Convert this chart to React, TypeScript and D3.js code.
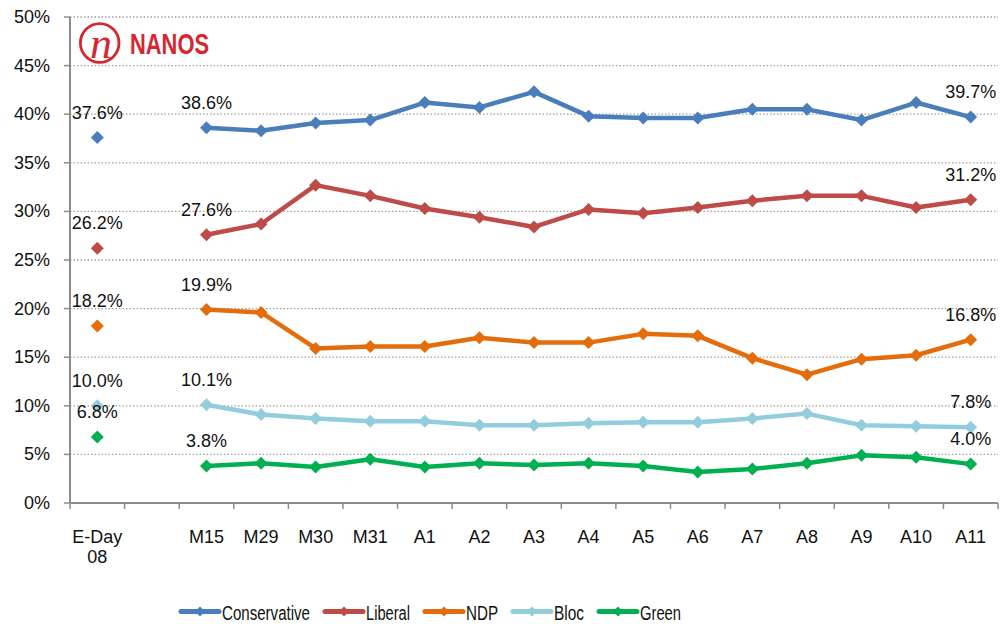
import React from "react";
import * as d3 from "d3";

const categories = ["E-Day\n08", "", "M15", "M29", "M30", "M31", "A1", "A2", "A3", "A4", "A5", "A6", "A7", "A8", "A9", "A10", "A11"];

const conservative = [37.6, null, 38.6, 38.3, 39.1, 39.4, 41.2, 40.7, 42.3, 39.8, 39.6, 39.6, 40.5, 40.5, 39.4, 41.2, 39.7];
const liberal = [26.2, null, 27.6, 28.7, 32.7, 31.6, 30.3, 29.4, 28.4, 30.2, 29.8, 30.4, 31.1, 31.6, 31.6, 30.4, 31.2];
const ndp = [18.2, null, 19.9, 19.6, 15.9, 16.1, 16.1, 17.0, 16.5, 16.5, 17.4, 17.2, 14.9, 13.2, 14.8, 15.2, 16.8];
const bloc = [10.0, null, 10.1, 9.1, 8.7, 8.4, 8.4, 8.0, 8.0, 8.2, 8.3, 8.3, 8.7, 9.2, 8.0, 7.9, 7.8];
const green = [6.8, null, 3.8, 4.1, 3.7, 4.5, 3.7, 4.1, 3.9, 4.1, 3.8, 3.2, 3.5, 4.1, 4.9, 4.7, 4.0];

const seriesNames = ["Conservative", "Liberal", "NDP", "Bloc", "Green"];
const seriesColors = ["#4a7ebb", "#be4b48", "#e46c0a", "#93cddd", "#00b050"];
const seriesValues = [conservative, liberal, ndp, bloc, green];
const labelIndices = [0, 2, 16];

const yTicks = [0, 5, 10, 15, 20, 25, 30, 35, 40, 45, 50];

const FONT = "'Liberation Sans', Arial, sans-serif";

export default function App() {
  const W = 1002, H = 624;
  const left = 70, right = 998, top = 17, bottom = 503;
  const x = d3.scaleBand<string>().domain(categories).range([left, right]).padding(0);
  const y = d3.scaleLinear().domain([0, 50]).range([bottom, top]);
  const cx = (i: number) => (x(categories[i]) as number) + x.bandwidth() / 2;
  const fmt = d3.format(".1f");

  const line = d3
    .line<number | null>()
    .defined((d) => d != null)
    .x((_, i) => cx(i))
    .y((d) => y(d as number));

  const diamond = (px: number, py: number, r: number) =>
    `M${px},${py - r}L${px + r},${py}L${px},${py + r}L${px - r},${py}Z`;

  const legendLine = 38, legendGap = 3, itemGap = 15;
  const legendTextW = [88, 44, 32, 30, 41];
  let lx = 181;
  const legendX: number[] = [];
  legendTextW.forEach((w) => {
    legendX.push(lx);
    lx += legendLine + legendGap + w + itemGap;
  });

  const boundaries = d3.range(categories.length + 1).map((i) => left + i * x.step());

  return (
    <svg width={W} height={H} style={{ position: "absolute", left: 0, top: 0, background: "#fff" }} fontFamily={FONT}>
      {/* grid */}
      {yTicks.filter((t) => t > 0).map((t) => (
        <line key={"g" + t} x1={left} x2={right} y1={y(t)} y2={y(t)} stroke="#a0a0a0" strokeWidth={1.3} strokeDasharray="1.5,2" />
      ))}
      {/* y axis */}
      <line x1={left} x2={left} y1={top} y2={bottom} stroke="#8c8c8c" strokeWidth={2} />
      {yTicks.map((t) => (
        <g key={"yt" + t}>
          <line x1={left - 6} x2={left} y1={y(t)} y2={y(t)} stroke="#8c8c8c" strokeWidth={1.5} />
          <text x={50} y={y(t) + 6} textAnchor="end" fontSize={18} fill="#111">{t + "%"}</text>
        </g>
      ))}
      {/* x axis */}
      <line x1={left} x2={right} y1={bottom} y2={bottom} stroke="#8c8c8c" strokeWidth={2} />
      {boundaries.map((b, i) => (
        <line key={"xt" + i} x1={b} x2={b} y1={bottom} y2={bottom + 6} stroke="#8c8c8c" strokeWidth={1.5} />
      ))}
      {categories.map((c, i) =>
        c.split("\n").map((part, j) => (
          <text key={"xl" + i + "-" + j} x={cx(i)} y={543 + j * 20} textAnchor="middle" fontSize={18} fill="#111">{part}</text>
        ))
      )}
      {/* series */}
      {seriesValues.map((vals, si) => (
        <g key={"s" + si}>
          <path d={line(vals.map((v, i) => (i === 0 ? null : v))) || ""} fill="none" stroke={seriesColors[si]} strokeWidth={4.5} strokeLinejoin="round" />
          {vals.map((v, i) =>
            v == null ? null : <path key={"m" + i} d={diamond(cx(i), y(v), 6.5)} fill={seriesColors[si]} />
          )}
          {labelIndices.map((i) => (
            <text key={"l" + i} x={cx(i)} y={y(vals[i] as number) - 19} textAnchor="middle" fontSize={18} fill="#111">{fmt(vals[i] as number) + "%"}</text>
          ))}
        </g>
      ))}
      {/* logo */}
      <g>
        <circle cx={99.7} cy={43} r={19.3} fill="none" stroke="#d7262e" strokeWidth={2.8} />
        <text x={101} y={58} textAnchor="middle" fontSize={44} fontStyle="italic" fontFamily="'Liberation Serif', 'DejaVu Serif', serif" fill="#d7262e">n</text>
        <text x={130} y={53.5} fontSize={30} fontWeight="bold" fill="#d7262e" textLength={79} lengthAdjust="spacingAndGlyphs">NANOS</text>
      </g>
      {/* legend */}
      {seriesNames.map((n, si) => (
        <g key={"lg" + si}>
          <line x1={legendX[si]} x2={legendX[si] + legendLine} y1={611.5} y2={611.5} stroke={seriesColors[si]} strokeWidth={5} strokeLinecap="round" />
          <path d={diamond(legendX[si] + legendLine / 2, 611.5, 5)} fill={seriesColors[si]} />
          <text x={legendX[si] + legendLine + legendGap} y={619.5} fontSize={19.5} fill="#111" textLength={legendTextW[si]} lengthAdjust="spacingAndGlyphs">{n}</text>
        </g>
      ))}
    </svg>
  );
}
